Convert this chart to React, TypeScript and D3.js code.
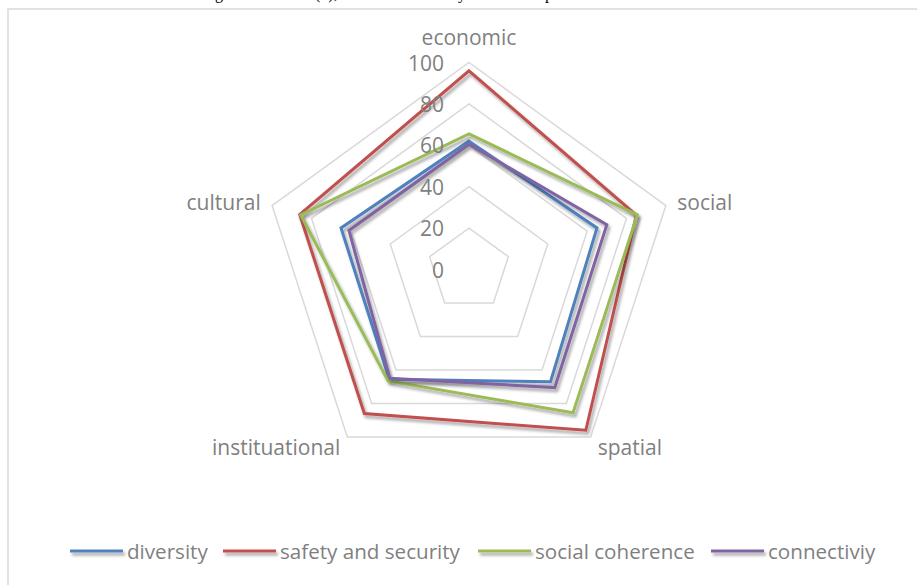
import React from "react";
import * as d3 from "d3";

const axes = ["economic", "social", "spatial", "instituational", "cultural"];
const ticks = [0, 20, 40, 60, 80, 100];
const seriesNames = ["diversity", "safety and security", "social coherence", "connectiviy"];
const diversity = [62, 65, 67, 65.5, 65];
const safety = [96, 85, 96, 86, 86];
const coherence = [65.5, 85.5, 85.5, 66.5, 85.5];
const connectivity = [60.5, 70, 70.5, 65, 61];
const seriesColors = ["#4F81BD", "#C0504D", "#9BBB59", "#8064A2"];
const seriesValues = [diversity, safety, coherence, connectivity];

const W = 917;
const H = 585;
const cx = 469;
const cy = 269.5;
const R = 207;
const FONT = "'Open Sans', sans-serif";
const GRAY = "#7f7f7f";
const legendX = [70, 223, 478, 711];

export default function App() {
  const r = d3.scaleLinear().domain([0, 100]).range([0, R]);
  const angle = d3
    .scalePoint<string>()
    .domain(axes)
    .range([0, (2 * Math.PI * (axes.length - 1)) / axes.length]);
  const pt = (a: string, v: number): [number, number] => {
    const t = angle(a) as number;
    return [cx + r(v) * Math.sin(t), cy - r(v) * Math.cos(t)];
  };
  const closed = d3.line<[number, number]>().curve(d3.curveLinearClosed);

  const gridLevels = ticks.filter((t) => t > 0);

  const lineLen = 53;
  const fs = 20.6;
  const ly = 551;

  return (
    <svg
      width={W}
      height={H}
      style={{ position: "absolute", left: 0, top: 0, background: "#fff" }}
    >
      <defs>
        <filter id="sh" filterUnits="userSpaceOnUse" x="0" y="0" width={W} height={H}>
          <feDropShadow dx="2" dy="3" stdDeviation="1.8" floodColor="#000" floodOpacity="0.35" />
        </filter>
      </defs>
      <g fontFamily="'Liberation Serif', serif" fontSize={16} fill="#000">
        <text x={215} y={-1}>g</text>
        <text x={315} y={-1}>(1),</text>
        <text x={458} y={-1}>y</text>
        <text x={545} y={-1}>p</text>
      </g>
      <rect x={8} y={9} width={930} height={600} fill="none" stroke="#d9d9d9" strokeWidth={1.5} />
      <g>
        {gridLevels.map((lv) => (
          <path
            key={lv}
            d={closed(axes.map((a) => pt(a, lv))) || ""}
            fill="none"
            stroke="#d9d9d9"
            strokeWidth={1.5}
          />
        ))}
      </g>
      <g>
        {seriesValues.map((vals, i) => (
          <path
            key={seriesNames[i]}
            d={closed(axes.map((a, j) => pt(a, vals[j]))) || ""}
            fill="none"
            stroke={seriesColors[i]}
            strokeWidth={3}
            strokeLinejoin="miter"
            filter="url(#sh)"
          />
        ))}
      </g>
      <g fontFamily={FONT} fontSize={21} fill={GRAY}>
        {ticks.map((t) => (
          <text key={t} x={cx - 25} y={cy - r(t)} textAnchor="end" dominantBaseline="central">
            {t}
          </text>
        ))}
      </g>
      <g fontFamily={FONT} fontSize={21} fill={GRAY}>
        {axes.map((a) => {
          const t = angle(a) as number;
          const s = Math.sin(t);
          const [x, y] = pt(a, 100 + (12 / R) * 100);
          if (Math.abs(s) < 0.01) {
            return (
              <text key={a} x={x} y={y - 6} textAnchor="middle">
                {a}
              </text>
            );
          }
          return (
            <text
              key={a}
              x={x}
              y={y}
              textAnchor={s > 0 ? "start" : "end"}
              dominantBaseline="central"
            >
              {a}
            </text>
          );
        })}
      </g>
      <g fontFamily={FONT} fontSize={fs} fill={GRAY}>
        {seriesNames.map((n, i) => (
          <g key={n}>
            <rect
              x={legendX[i]}
              y={ly - 1.5}
              width={lineLen}
              height={3}
              fill={seriesColors[i]}
              filter="url(#sh)"
            />
            <text x={legendX[i] + lineLen + 4} y={ly} dominantBaseline="central">
              {n}
            </text>
          </g>
        ))}
      </g>
    </svg>
  );
}
